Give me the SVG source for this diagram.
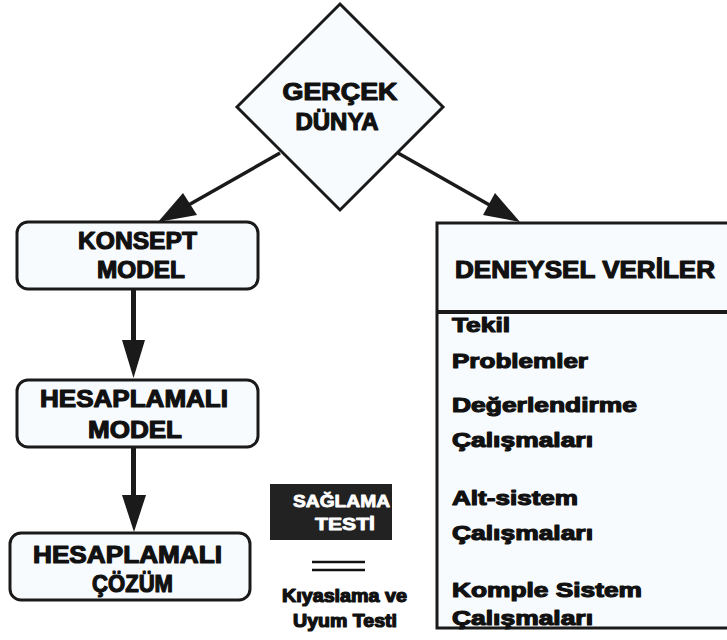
<svg xmlns="http://www.w3.org/2000/svg" width="727" height="640" viewBox="0 0 727 640">
  <style>
    .box { fill: #f8fbfe; stroke: #1a1a1a; stroke-width: 3; }
    .t { font-family: "Liberation Sans", Arial, sans-serif; font-weight: bold; fill: #111; stroke: #111; stroke-width: 1.2; stroke-linejoin: round; }
    .big { font-size: 24px; text-anchor: middle; }
    .item { font-size: 21px; }
    .inv { font-size: 16.5px; fill: #fff; stroke: #fff; stroke-width: 0.8; }
    .note { font-size: 17.5px; }
    .edge { stroke: #1a1a1a; fill: none; }
    .head { fill: #1a1a1a; }
  </style>

  <rect width="727" height="640" fill="#fff"/>

  <!-- Connectors -->
  <g id="connectors">
    <line class="edge" x1="280" y1="153" x2="185" y2="207" stroke-width="3.5"/>
    <polygon class="head" points="158,222 183,193 197,215"/>
    <line class="edge" x1="398" y1="153" x2="493" y2="207" stroke-width="3.5"/>
    <polygon class="head" points="520,222 495,193 483,215"/>
    <line class="edge" x1="133.5" y1="289" x2="133.5" y2="345" stroke-width="5"/>
    <polygon class="head" points="122,340 145,340 133.5,378"/>
    <line class="edge" x1="133.5" y1="447" x2="133.5" y2="500" stroke-width="5"/>
    <polygon class="head" points="122,495 146,495 134,532"/>
  </g>

  <!-- Real world -->
  <g id="gercek-dunya">
    <polygon class="box" points="340,4 443,107 340,210 237,107"/>
    <text class="t big" x="340" y="100" textLength="115" lengthAdjust="spacingAndGlyphs">GERÇEK</text>
    <text class="t big" x="337" y="130" textLength="83" lengthAdjust="spacingAndGlyphs">DÜNYA</text>
  </g>

  <!-- Concept model -->
  <g id="konsept-model">
    <rect class="box" x="17" y="222" width="241" height="67" rx="11"/>
    <text class="t big" x="137.5" y="249" textLength="119" lengthAdjust="spacingAndGlyphs">KONSEPT</text>
    <text class="t big" x="141" y="278" textLength="88" lengthAdjust="spacingAndGlyphs">MODEL</text>
  </g>

  <!-- Computational model -->
  <g id="hesaplamali-model">
    <rect class="box" x="17" y="380" width="241" height="67" rx="11"/>
    <text class="t big" x="134" y="407" textLength="188" lengthAdjust="spacingAndGlyphs">HESAPLAMALI</text>
    <text class="t big" x="135" y="438" textLength="94" lengthAdjust="spacingAndGlyphs">MODEL</text>
  </g>

  <!-- Computational solution -->
  <g id="hesaplamali-cozum">
    <rect class="box" x="10" y="533" width="240" height="67" rx="11"/>
    <text class="t big" x="127.5" y="563" textLength="189" lengthAdjust="spacingAndGlyphs">HESAPLAMALI</text>
    <text class="t big" x="132.5" y="592" textLength="81" lengthAdjust="spacingAndGlyphs">ÇÖZÜM</text>
  </g>

  <!-- Experimental data -->
  <g id="deneysel-veriler">
    <rect class="box" x="437" y="223" width="300" height="405" stroke-width="3.5"/>
    <line x1="437" y1="312" x2="737" y2="312" stroke="#1a1a1a" stroke-width="4"/>
    <text class="t" x="455" y="278" font-size="24" textLength="260" lengthAdjust="spacingAndGlyphs">DENEYSEL VERİLER</text>
    <text class="t item" x="452" y="332" textLength="58" lengthAdjust="spacingAndGlyphs">Tekil</text>
    <text class="t item" x="452" y="368" textLength="136" lengthAdjust="spacingAndGlyphs">Problemler</text>
    <text class="t item" x="452" y="412" textLength="185" lengthAdjust="spacingAndGlyphs">Değerlendirme</text>
    <text class="t item" x="452" y="447" textLength="141" lengthAdjust="spacingAndGlyphs">Çalışmaları</text>
    <text class="t item" x="452" y="505" textLength="126" lengthAdjust="spacingAndGlyphs">Alt-sistem</text>
    <text class="t item" x="452" y="540" textLength="141" lengthAdjust="spacingAndGlyphs">Çalışmaları</text>
    <text class="t item" x="452" y="597" textLength="190" lengthAdjust="spacingAndGlyphs">Komple Sistem</text>
    <text class="t item" x="452" y="625" textLength="141" lengthAdjust="spacingAndGlyphs">Çalışmaları</text>
  </g>

  <!-- Legend -->
  <g id="saglama-testi">
    <rect x="270" y="484" width="122" height="56" fill="#222"/>
    <text class="t inv" x="293" y="507" textLength="97" lengthAdjust="spacingAndGlyphs">SAĞLAMA</text>
    <text class="t inv" x="315" y="530" textLength="60" lengthAdjust="spacingAndGlyphs">TESTİ</text>
  </g>
  <g id="kiyaslama">
    <line x1="312" y1="562" x2="365" y2="562" stroke="#111" stroke-width="2.5"/>
    <line x1="312" y1="570" x2="365" y2="570" stroke="#111" stroke-width="2.5"/>
    <text class="t note" x="282" y="602" textLength="125" lengthAdjust="spacingAndGlyphs">Kıyaslama ve</text>
    <text class="t note" x="293" y="627" textLength="104" lengthAdjust="spacingAndGlyphs">Uyum Testi</text>
  </g>
</svg>
